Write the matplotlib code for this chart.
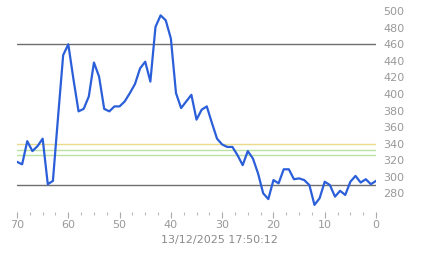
import matplotlib
matplotlib.use("Agg")
import matplotlib.pyplot as plt
from matplotlib.ticker import MultipleLocator

# Werte (x = Minuten zurück, 70 .. 0)
minutes = list(range(70, -1, -1))
values = [318, 315, 343, 331, 337, 346, 291, 295, 372, 447,
          460, 418, 379, 382, 397, 438, 421, 382, 379, 385,
          385, 391, 401, 412, 431, 439, 415, 481, 495, 489,
          467, 401, 383, 391, 399, 369, 381, 385, 365, 346,
          339, 336, 336, 326, 314, 331, 322, 304, 280, 273,
          296, 292, 309, 309, 297, 298, 296, 290, 266, 274,
          294, 290, 276, 283, 278, 294, 301, 293, 297, 291, 295]
ref_dark = [460, 290]
ref_yellow = [340]
ref_green = [332, 326]
y_ticks = list(range(280, 501, 20))
x_ticks = [70, 60, 50, 40, 30, 20, 10, 0]
stamp = "13/12/2025 17:50:12"

fig = plt.figure(figsize=(4.43, 2.58), dpi=100)
ax = fig.add_axes([0.0384, 0.1802, 0.8104, 0.802])

for v in ref_dark:
    ax.axhline(v, color="#6e6e6e", lw=1.0)
for v in ref_yellow:
    ax.axhline(v, color="#eadb8a", lw=1.0)
for v in ref_green:
    ax.axhline(v, color="#b9e2a4", lw=1.0)

ax.plot(minutes, values, color="#2b5fd9", lw=1.6, solid_joinstyle="round")

ax.set_xlim(70, 0)
ax.set_ylim(258, 508)
ax.set_xticks(x_ticks)
ax.xaxis.set_minor_locator(MultipleLocator(2.5))
ax.set_yticks(y_ticks)
ax.yaxis.tick_right()

for s in ax.spines.values():
    s.set_visible(False)

ax.tick_params(axis="x", which="major", length=4, width=0.8, color="#aaaaaa",
               labelsize=8, labelcolor="#999999", pad=2)
ax.tick_params(axis="x", which="minor", length=2, width=0.8, color="#bbbbbb")
ax.tick_params(axis="y", which="both", length=0, labelsize=8,
               labelcolor="#999999", pad=5)

fig.text(0.495, 0.07, stamp, ha="center", va="center", fontsize=8, color="#8a8a8a")

fig.savefig("out.png", dpi=100, facecolor="white")
